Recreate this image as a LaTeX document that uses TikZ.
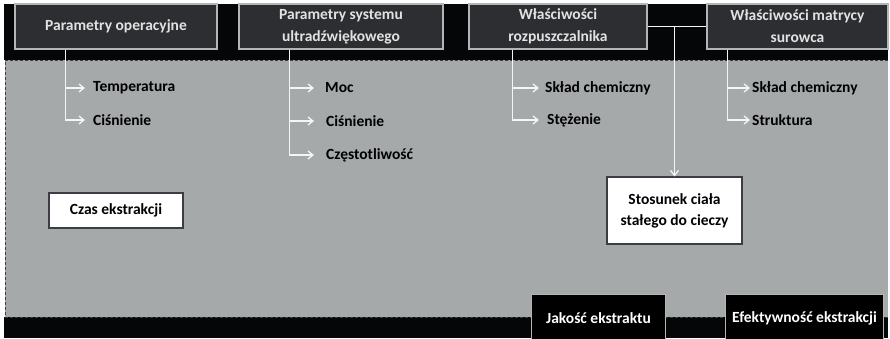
\documentclass[tikz,border=0pt]{standalone}
\usepackage{fontspec}
\setmainfont{Carlito}
\usetikzlibrary{arrows.meta}
\definecolor{bandblack}{HTML}{050608}
\definecolor{panelgray}{HTML}{A6A9A9}
\definecolor{boxdark}{HTML}{2C2E31}
\definecolor{boxedge}{HTML}{B4B6B6}
\definecolor{boxtext}{HTML}{E2E2E2}
\definecolor{dashcol}{HTML}{3A3D44}
\tikzset{
  x=1pt,y=-1pt,
  boxfont/.style={font=\fontsize{15.5}{21}\selectfont\bfseries},
  topbox/.style={draw=boxedge,line width=1.2pt,fill=boxdark,text=boxtext,boxfont,align=center,inner sep=0pt},
  whitebox/.style={draw=dashcol,line width=1.2pt,fill=white,text=black,boxfont,align=center,inner sep=0pt},
  botbox/.style={fill=black,text=white,boxfont,align=center,inner sep=0pt},
  botedge/.style={draw=boxedge,line width=1pt},
  leaf/.style={anchor=west,font=\fontsize{15.5}{18}\selectfont\bfseries,text=black,inner ysep=0pt,inner xsep=0pt},
  wline/.style={draw=white!92!gray,line width=1.3pt},
  warr/.style={wline,-{Straight Barb[length=5pt,width=8pt,line width=1.3pt]}},
}
\begin{document}
\begin{tikzpicture}
\useasboundingbox (0,0) rectangle (890,338);
\fill[white] (0,0) rectangle (890,338);
% bands
\fill[bandblack] (4,4) rectangle (888,60);
\fill[panelgray] (5,60) rectangle (888,317);
\fill[bandblack] (4,317) rectangle (888,338);
\draw[dashcol,line width=1pt,dash pattern=on 3pt off 2pt] (888,60) -- (5,60) -- (5,317) -- (888,317);

% top boxes
\node[topbox,minimum width=202pt,minimum height=45pt] (b1) at (116,26.5) {Parametry operacyjne};
\node[topbox,minimum width=204pt,minimum height=45pt] (b2) at (341,26.5) {Parametry systemu\\[1pt]ultradźwiękowego};
\node[topbox,minimum width=178pt,minimum height=45pt] (b3) at (558,26.5) {Właściwości\\[1pt]rozpuszczalnika};
\node[topbox,minimum width=181pt,minimum height=45pt] (b4) at (797.5,26.5) {Właściwości matrycy\\[1pt]surowca};

% leaves
\node[leaf] (t1) at (93,88) {Temperatura};
\node[leaf] (t2) at (93,120) {Ciśnienie};
\node[leaf] (m1) at (325,88) {Moc};
\node[leaf] (m2) at (326,121) {Ciśnienie};
\node[leaf] (m3) at (326,155) {Częstotliwość};
\node[leaf] (s1) at (545,88) {Skład chemiczny};
\node[leaf] (s2) at (547,120) {Stężenie};
\node[leaf] (r1) at (752,88) {Skład chemiczny};
\node[leaf] (r2) at (752,120) {Struktura};

% other boxes
\node[whitebox,minimum width=134pt,minimum height=35pt] (czas) at (116,210.5) {Czas ekstrakcji};
\node[whitebox,minimum width=135pt,minimum height=67pt] (stos) at (674.5,210.5) {Stosunek ciała\\stałego do cieczy};
\node[botbox,minimum width=133pt,minimum height=46pt] (jak) at (598.5,318) {Jakość ekstraktu};
\node[botbox,minimum width=157pt,minimum height=46pt] (efe) at (804.5,318) {Efektywność ekstrakcji};
\draw[botedge] (jak.south west) -- (jak.north west) -- (jak.north east) -- (jak.south east);
\draw[botedge] (efe.south west) -- (efe.north west) -- (efe.north east) -- (efe.south east);

% connectors
\draw[warr] ([xshift=51pt]b1.south west) |- ([xshift=-8pt]t1.west);
\draw[warr] ([xshift=51pt]b1.south west) |- ([xshift=-8pt]t2.west);
\draw[warr] ([xshift=51pt]b2.south west) |- ([xshift=-11pt]m1.west);
\draw[warr] ([xshift=51pt]b2.south west) |- ([xshift=-12pt]m2.west);
\draw[warr] ([xshift=51pt]b2.south west) |- ([xshift=-12pt]m3.west);
\draw[warr] ([xshift=44pt]b3.south west) |- ([xshift=-6pt]s1.west);
\draw[warr] ([xshift=44pt]b3.south west) |- ([xshift=-8pt]s2.west);
\draw[warr] ([xshift=21pt]b4.south west) |- ([xshift=-2pt]r1.west);
\draw[warr] ([xshift=21pt]b4.south west) |- ([xshift=-2pt]r2.west);
\draw[wline] (b3.east) -- (b4.west);
\draw[warr] (stos.north |- b3.east) -- (stos.north);
\end{tikzpicture}
\end{document}
